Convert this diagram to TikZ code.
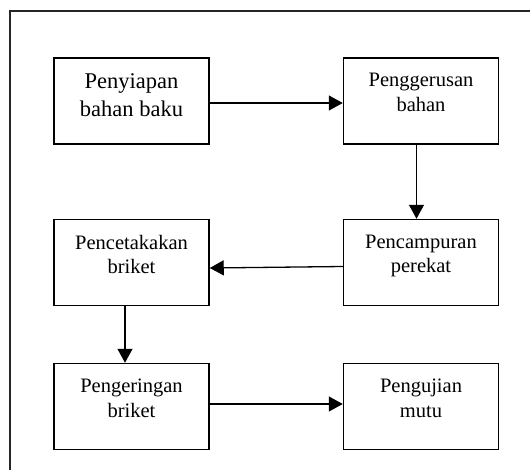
\documentclass[tikz,border=0pt]{standalone}
\usepackage{fontspec}
\setmainfont{Liberation Serif}
\usetikzlibrary{arrows.meta,positioning}

\begin{document}
\begin{tikzpicture}[x=1pt,y=-1pt,>={Triangle[length=14pt,width=15pt]},
  boks/.style={draw=black,line width=1.5pt,minimum width=155pt,minimum height=86pt,inner sep=0pt},
  isi/.style={align=center,inner sep=0pt,font=\fontsize{20.5}{24.5}\selectfont},
  panah/.style={->,line width=1.3pt}]
\clip (0,0) rectangle (530,469);
\draw[line width=1.5pt,draw=black!85] (10,11) rectangle (560,500);
% kotak proses
\node[boks] (persiapan) at (131.5,101) {};
\node[boks] (penggerusan) at (421,101) {};
\node[boks] (pencetakan) at (131.5,262.5) {};
\node[boks] (pencampuran) at (421,262.5) {};
\node[boks] (pengeringan) at (131.5,406.5) {};
\node[boks] (pengujian) at (421,406.5) {};
% teks di dalam kotak
\node[isi,font=\fontsize{22.5}{28}\selectfont,below=16pt of persiapan.north] (t_persiapan) {Penyiapan\\bahan baku};
\node[isi,below=16pt of penggerusan.north] (t_penggerusan) {Penggerusan\\bahan};
\node[isi,below=16pt of pencetakan.north] (t_pencetakan) {Pencetakakan\\briket};
\node[isi,below=16pt of pencampuran.north] (t_pencampuran) {Pencampuran\\perekat};
\node[isi,below=16pt of pengeringan.north] (t_pengeringan) {Pengeringan\\briket};
\node[isi,below=16pt of pengujian.north] (t_pengujian) {Pengujian\\mutu};
% panah
\draw[panah] ([yshift=-2pt]persiapan.east) -- ([yshift=-2pt]penggerusan.west);
\draw[panah] ([xshift=-4.5pt]penggerusan.south) -- ([xshift=-4.5pt]pencampuran.north);
\draw[panah] ([yshift=-4pt]pencampuran.west) -- ([yshift=-5.5pt]pencetakan.east);
\draw[panah] ([xshift=-6.5pt]pencetakan.south) -- ([xshift=-6.5pt]pengeringan.north);
\draw[panah] ([yshift=2.5pt]pengeringan.east) -- ([yshift=2.5pt]pengujian.west);
\end{tikzpicture}
\end{document}
